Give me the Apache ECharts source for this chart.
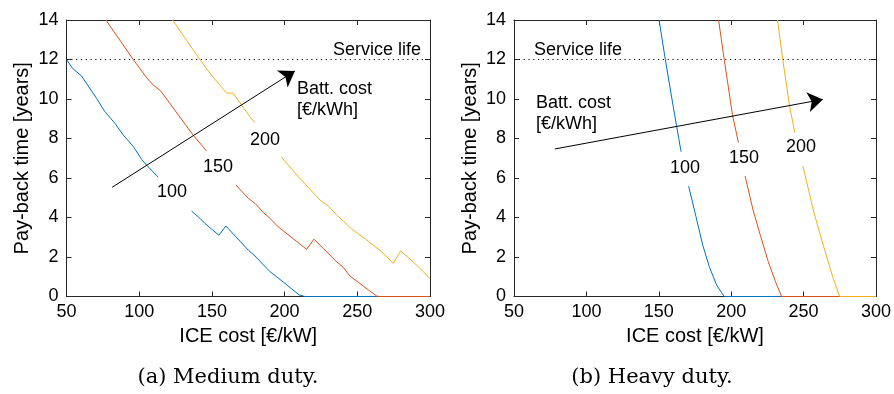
<!DOCTYPE html>
<html>
<head>
<meta charset="utf-8">
<script src="https://cdn.jsdelivr.net/npm/echarts@6/dist/echarts.min.js"></script>
<style>html,body{margin:0;padding:0;background:#fff;}#c{width:894px;height:394px;}</style>
</head>
<body>
<div id="c"></div>
<script>
// ---- Data ----
const xTicks = [50, 100, 150, 200, 250, 300];
const yTicks = [0, 2, 4, 6, 8, 10, 12, 14];
const serviceLife = 12;

// (a) Medium duty, battery cost 100 / 150 / 200 €/kWh (segments split where the contour labels are)
const md100a = [[50,12],[54.2,11.55],[60.4,11.16],[64.9,10.66],[70.7,10.03],[76.4,9.36],[83.3,8.77],[89,8.18],[96,7.59],[101.6,6.95],[105,6.66],[113,6.04]];
const md100b = [[136,4.33],[141.7,3.96],[145.2,3.7],[154.8,3.1],[159.6,3.57],[175,2.35],[179.6,2.05],[189.9,1.26],[200.2,0.67],[210,0.08],[214,0],[300,0]];
const md150a = [[77.1,14],[95.9,12],[105.1,11.08],[109.6,10.71],[114.9,10.4],[137.1,8.17],[146.3,7.37]];
const md150b = [[166.5,5.65],[175,4.97],[179.6,4.72],[185.3,4.26],[189.9,3.96],[195.6,3.53],[215.1,2.39],[220.2,2.9],[225.4,2.52],[235.8,1.76],[240.3,1.48],[244.9,1.04],[254.1,0.53],[263.2,0.03],[265,0],[300,0]];
const md200a = [[123,14],[141.7,12],[149.8,11.2],[160.1,10.3],[164.6,10.3],[176.1,9.1],[179.6,8.8]];
const md200b = [[197.9,7.05],[210.5,5.98],[224.3,4.89],[230,4.58],[235.8,4.13],[240.3,3.82],[246.1,3.42],[256.4,2.86],[266.7,2.27],[274.7,1.68],[279.8,2.3],[285,1.98],[293.1,1.43],[300,0.9]];

// (b) Heavy duty
const hd100a = [[150.2,14],[154.5,12],[160,9.6],[165.4,7.33]];
const hd100b = [[170.6,5.59],[175.7,4.04],[180.3,2.61],[184.9,1.51],[189.9,0.58],[195.2,0],[300,0]];
const hd150a = [[191.3,14],[195.2,12],[200.9,9.19],[205,7.79]];
const hd150b = [[209.6,6.1],[215.1,4.38],[220.4,3.03],[225.6,1.76],[230.6,0.75],[234.8,0],[300,0]];
const hd200a = [[232,14],[235.6,12],[240.2,9.7],[243.9,8.3]];
const hd200b = [[249.5,6.61],[257,4.29],[263.9,2.52],[270.1,1.0],[274.9,0],[300,0]];

// arrows (data units): start, end
const mdArrow = [[81.4,5.53],[207.1,11.42]];
const hdArrow = [[78.2,7.47],[263.3,9.98]];

const battLevels = ['100', '150', '200'];
const colors = ['#0072BD', '#D95319', '#EDB120'];

// ---- Chart ----
const SANS = 'Liberation Sans, Arial, Helvetica, sans-serif';
const axisCol = '#262626';

function xAx(grid, pos, labels) {
  return {
    type: 'value', gridIndex: grid, position: pos, min: xTicks[0], max: xTicks[xTicks.length-1], interval: 50,
    axisLine: {show: true, onZero: false, lineStyle: {color: axisCol, width: 1}},
    axisTick: {show: true, inside: true, length: 5, lineStyle: {color: axisCol}},
    axisLabel: {show: labels, color: '#000', fontFamily: SANS, fontSize: 18, margin: 7},
    splitLine: {show: false},
    name: labels ? 'ICE cost [€/kW]' : '', nameLocation: 'middle', nameGap: 26,
    nameTextStyle: {color: '#000', fontFamily: SANS, fontSize: 20}
  };
}
function yAx(grid, pos, labels) {
  return {
    type: 'value', gridIndex: grid, position: pos, min: yTicks[0], max: yTicks[yTicks.length-1], interval: 2,
    axisLine: {show: true, onZero: false, lineStyle: {color: axisCol, width: 1}},
    axisTick: {show: true, inside: true, length: 5, lineStyle: {color: axisCol}},
    axisLabel: {show: labels, color: '#000', fontFamily: SANS, fontSize: 18, margin: 8},
    splitLine: {show: false},
    name: labels ? 'Pay-back time [years]' : '', nameLocation: 'middle', nameGap: 34,
    nameTextStyle: {color: '#000', fontFamily: SANS, fontSize: 20}
  };
}

function lineSeries(data, color, xi, yi) {
  return {
    type: 'line', data: data, xAxisIndex: xi, yAxisIndex: yi, symbol: 'none', silent: true,
    lineStyle: {color: color, width: 1}, clip: true, z: 3
  };
}
function serviceSeries(xi, yi, arrow) {
  return {
    type: 'line', data: [[xTicks[0], serviceLife], [xTicks[xTicks.length-1], serviceLife]],
    xAxisIndex: xi, yAxisIndex: yi, symbol: 'none', silent: true,
    lineStyle: {color: '#000', width: 1, type: [1.2, 3.6]}, z: 2,
    markLine: {
      silent: true, symbol: ['none', 'arrow'], symbolSize: 15, animation: false,
      label: {show: false},
      lineStyle: {color: '#000', width: 1, type: 'solid'},
      data: [[{coord: arrow[0]}, {coord: arrow[1]}]]
    }
  };
}

const series = [
  lineSeries(md100a, colors[0], 0, 0), lineSeries(md100b, colors[0], 0, 0),
  lineSeries(md150a, colors[1], 0, 0), lineSeries(md150b, colors[1], 0, 0),
  lineSeries(md200a, colors[2], 0, 0), lineSeries(md200b, colors[2], 0, 0),
  serviceSeries(0, 0, mdArrow),
  lineSeries(hd100a, colors[0], 2, 2), lineSeries(hd100b, colors[0], 2, 2),
  lineSeries(hd150a, colors[1], 2, 2), lineSeries(hd150b, colors[1], 2, 2),
  lineSeries(hd200a, colors[2], 2, 2), lineSeries(hd200b, colors[2], 2, 2),
  serviceSeries(2, 2, hdArrow)
];

function txt(x, y, s, align, size, font) {
  return {
    type: 'text', x: x, y: y, silent: true, z: 10,
    style: {text: s, fill: '#000', font: (size || 18) + 'px ' + (font || SANS), align: align || 'center', verticalAlign: 'middle'}
  };
}

const chart = echarts.init(document.getElementById('c'), null, {renderer: 'canvas'});
chart.setOption({
  animation: false,
  backgroundColor: '#fff',
  grid: [
    {left: 66.5, top: 20, width: 363.5, height: 276.5},
    {left: 514, top: 20, width: 363.3, height: 276.5}
  ],
  xAxis: [xAx(0, 'bottom', true), xAx(0, 'top', false), xAx(1, 'bottom', true), xAx(1, 'top', false)],
  yAxis: [yAx(0, 'left', true), yAx(0, 'right', false), yAx(1, 'left', true), yAx(1, 'right', false)],
  series: series,
  graphic: [
    txt(421, 50, 'Service life', 'right'),
    txt(534, 50, 'Service life', 'left'),
    txt(297, 89, 'Batt. cost', 'left'),
    txt(297, 110, '[€/kWh]', 'left'),
    txt(536, 103, 'Batt. cost', 'left'),
    txt(536, 124, '[€/kWh]', 'left'),
    txt(172, 192, battLevels[0]), txt(218, 167, battLevels[1]), txt(265, 140, battLevels[2]),
    txt(685, 168, battLevels[0]), txt(744, 158, battLevels[1]), txt(801, 147, battLevels[2]),
    txt(228, 378, '(a) Medium duty.', 'center', 21, 'DejaVu Serif, serif'),
    txt(652, 378, '(b) Heavy duty.', 'center', 21, 'DejaVu Serif, serif')
  ]
});
</script>
</body>
</html>
